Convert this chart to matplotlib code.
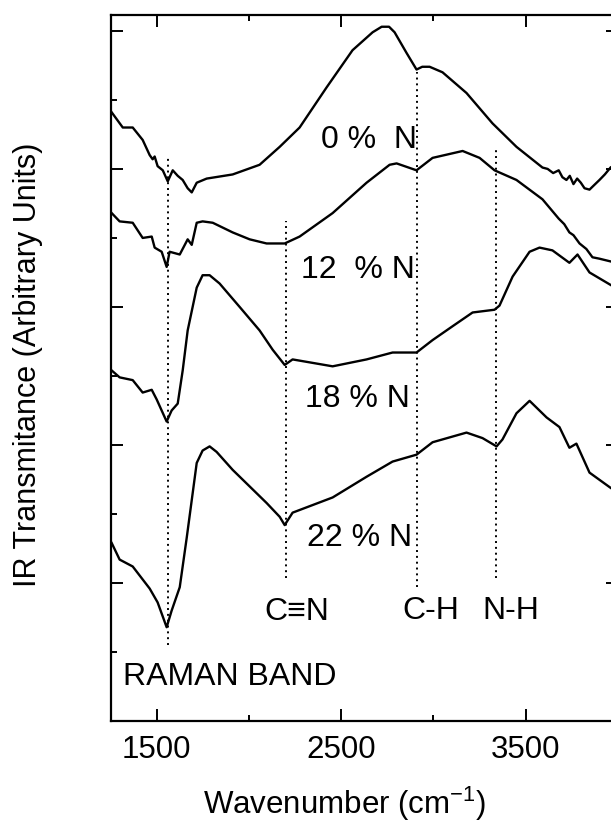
import matplotlib
matplotlib.use("Agg")
import matplotlib.pyplot as plt
from matplotlib.ticker import MultipleLocator, FixedLocator

plt.rcParams['font.family'] = ['Liberation Sans', 'DejaVu Sans']
plt.rcParams['mathtext.fontset'] = 'custom'
plt.rcParams['mathtext.rm'] = 'Liberation Sans'
plt.rcParams['mathtext.it'] = 'Liberation Sans'

# ---- data ----
wn_0 = [1256, 1316, 1370, 1424, 1462, 1478, 1489, 1505, 1533, 1560, 1587, 1614, 1641,
        1668, 1690, 1717, 1771, 1912, 2058, 2167, 2275, 2421, 2562, 2671, 2720, 2760,
        2790, 2855, 2909, 2940, 2980, 3050, 3180, 3321, 3451, 3592, 3620, 3650, 3680,
        3700, 3722, 3740, 3760, 3780, 3800, 3820, 3847, 3870, 3901, 3930, 3961]
t_0 = [4.41, 4.30, 4.30, 4.21, 4.10, 4.07, 4.09, 4.02, 3.99, 3.91, 3.99, 3.95, 3.92,
       3.86, 3.83, 3.90, 3.93, 3.96, 4.03, 4.16, 4.30, 4.59, 4.86, 4.99, 5.03, 5.03,
       4.99, 4.84, 4.72, 4.74, 4.74, 4.70, 4.55, 4.33, 4.16, 4.01, 4.00, 3.97, 3.99,
       3.94, 3.92, 3.95, 3.89, 3.93, 3.90, 3.86, 3.85, 3.88, 3.92, 3.96, 4.01]

wn_12 = [1256, 1299, 1370, 1424, 1473, 1489, 1527, 1554, 1570, 1625, 1668, 1690, 1717,
         1749, 1804, 1912, 2004, 2096, 2194, 2275, 2454, 2638, 2763, 2801, 2909, 2996,
         3159, 3251, 3332, 3451, 3592, 3680, 3710, 3738, 3760, 3793, 3830, 3863, 3900,
         3961]
t_12 = [3.68, 3.62, 3.61, 3.50, 3.51, 3.43, 3.40, 3.29, 3.40, 3.38, 3.49, 3.45, 3.61,
        3.62, 3.61, 3.54, 3.49, 3.46, 3.46, 3.51, 3.68, 3.90, 4.03, 4.04, 3.99, 4.08,
        4.13, 4.08, 3.99, 3.92, 3.78, 3.64, 3.60, 3.54, 3.52, 3.46, 3.42, 3.36, 3.35,
        3.33]

wn_18 = [1256, 1299, 1370, 1424, 1473, 1500, 1554, 1581, 1614, 1641, 1668, 1717, 1749,
         1787, 1841, 1950, 2058, 2129, 2194, 2237, 2454, 2638, 2779, 2909, 2996, 3104,
         3213, 3332, 3359, 3430, 3522, 3576, 3646, 3738, 3782, 3847, 3961]
t_18 = [2.54, 2.49, 2.47, 2.38, 2.40, 2.33, 2.17, 2.25, 2.30, 2.54, 2.83, 3.14, 3.23,
        3.23, 3.17, 3.00, 2.83, 2.69, 2.58, 2.62, 2.57, 2.62, 2.67, 2.67, 2.76, 2.86,
        2.96, 2.98, 3.01, 3.22, 3.40, 3.43, 3.41, 3.32, 3.38, 3.25, 3.16]

wn_22 = [1256, 1299, 1370, 1462, 1505, 1554, 1581, 1625, 1663, 1717, 1749, 1787, 1825,
         1912, 2004, 2096, 2167, 2194, 2237, 2454, 2638, 2779, 2909, 2996, 3180, 3267,
         3343, 3375, 3451, 3522, 3614, 3684, 3738, 3776, 3847, 3961]
t_22 = [1.29, 1.17, 1.12, 0.96, 0.86, 0.68, 0.80, 0.97, 1.33, 1.87, 1.96, 1.99, 1.95,
        1.82, 1.70, 1.58, 1.48, 1.42, 1.51, 1.62, 1.77, 1.88, 1.93, 2.02, 2.09, 2.05,
        1.99, 2.04, 2.23, 2.32, 2.20, 2.13, 1.98, 2.01, 1.80, 1.69]

series_labels = ["0 %  N", "12  % N", "18 % N", "22 % N"]
label_pos = [(2650, 4.21), (2589, 3.27), (2589, 2.33), (2600, 1.33)]

band_x = [1560, 2200, 2910, 3340]
band_top = [4.10, 3.62, 4.70, 4.14]
band_bottom = [0.55, 1.04, 0.97, 1.04]
band_names = ["C\u2261N", "C-H", "N-H"]
band_label_pos = [(2259, 0.79), (2985, 0.80), (3419, 0.80)]

xticks_major = [1500, 2500, 3500]
xticks_minor = [2000, 3000, 4000]

# ---- figure ----
fig = plt.figure(figsize=(6.11, 8.26), dpi=100)
ax = fig.add_axes([0.181, 0.127, 0.830, 0.855])

for wn, t in [(wn_0, t_0), (wn_12, t_12), (wn_18, t_18), (wn_22, t_22)]:
    ax.plot(wn, t, color='black', lw=1.7, solid_joinstyle='round')

for x, yt, yb in zip(band_x, band_top, band_bottom):
    ax.plot([x, x], [yb, yt], color='black', lw=1.4, ls=(0, (1, 2.0)))

for (x, y), s in zip(label_pos, series_labels):
    ax.text(x, y, s, ha='center', va='center', fontsize=23)
for (x, y), s in zip(band_label_pos, band_names):
    ax.text(x, y, s, ha='center', va='center', fontsize=23)
ax.text(1316, 0.32, "RAMAN BAND", ha='left', va='center', fontsize=23)

ax.set_xlim(1250, 4000)
ax.set_ylim(0, 5.116)

ax.xaxis.set_major_locator(FixedLocator(xticks_major))
ax.xaxis.set_minor_locator(FixedLocator(xticks_minor))
ax.yaxis.set_major_locator(MultipleLocator(1))
ax.yaxis.set_minor_locator(MultipleLocator(0.5))
ax.set_yticklabels([])
ax.tick_params(which='both', direction='in', top=True, right=True, width=1.4)
ax.tick_params(which='major', length=8.5)
ax.tick_params(which='minor', length=4.5)
ax.tick_params(axis='x', which='major', labelsize=22.5, pad=10)
for sp in ax.spines.values():
    sp.set_linewidth(1.6)

fig.text(345 / 611, 1 - 814 / 826, r"Wavenumber (cm$^{\mathregular{-1}}$)",
         ha='center', va='baseline', fontsize=22.5)
fig.text(28 / 611, 1 - 365 / 826, "IR Transmitance (Arbitrary Units)",
         rotation=90, ha='center', va='center', fontsize=22)

fig.savefig("out.png", dpi=100)
